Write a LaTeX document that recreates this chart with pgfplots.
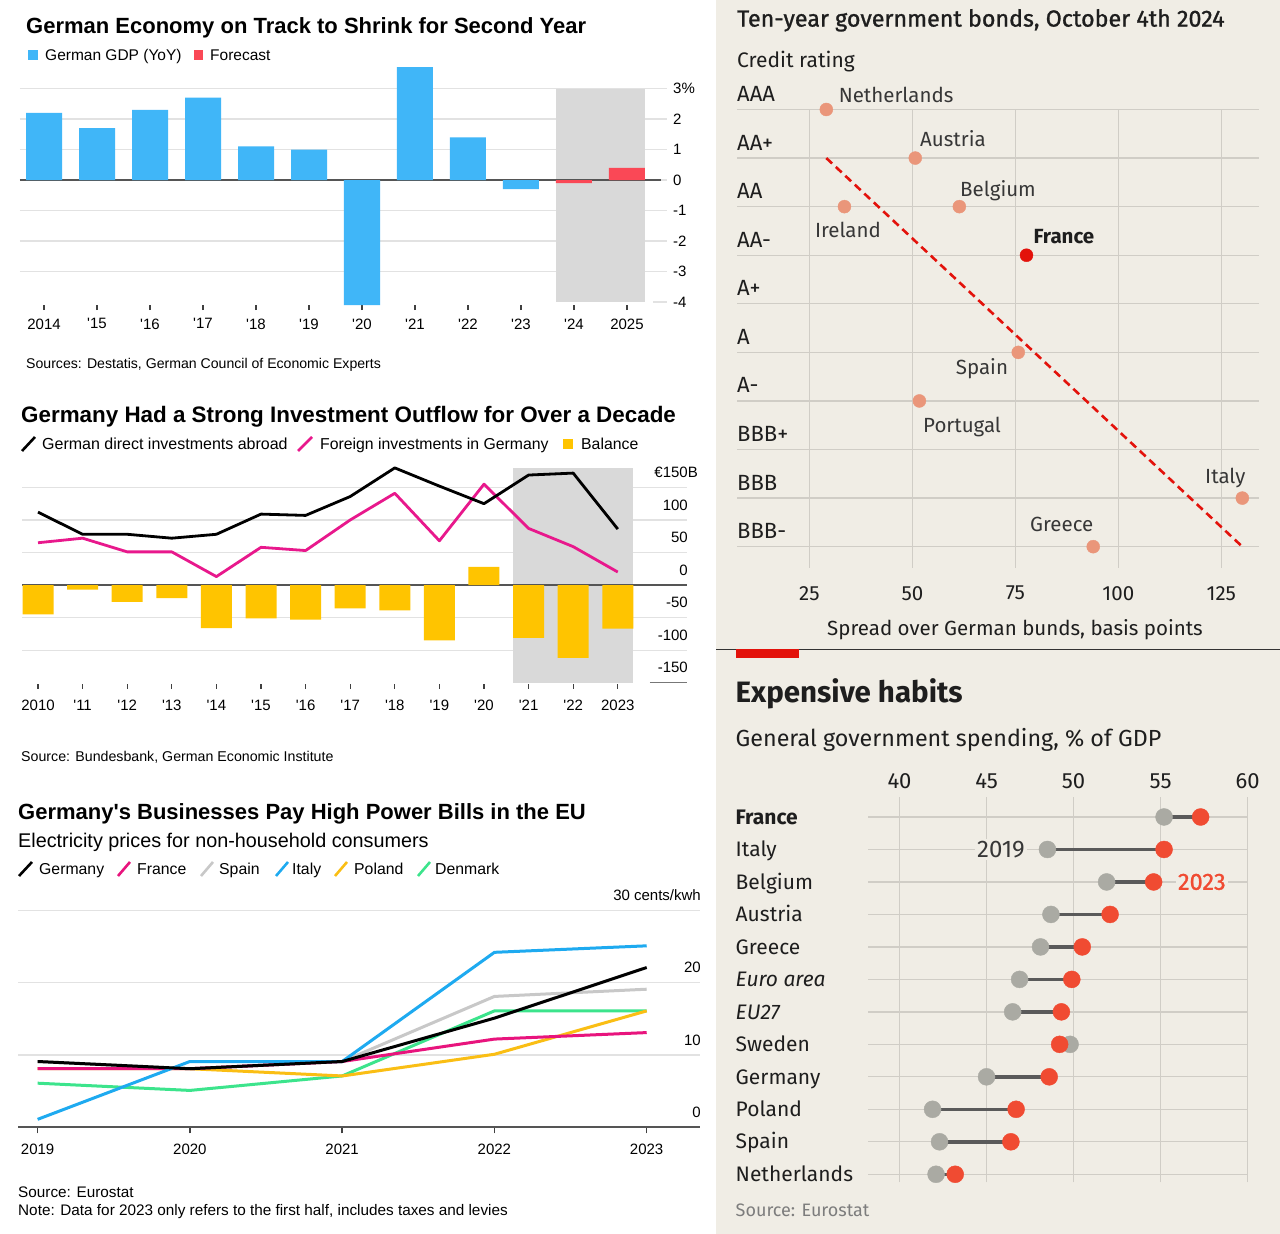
\documentclass[border=0pt]{standalone}
\usepackage{pgfplots}
\pgfplotsset{compat=1.18}
\usepackage{fontspec}
\setmainfont{Liberation Sans}
\newfontfamily\econ{Fira Sans}
\newfontfamily\econmed{Fira Sans}[FakeBold=1.1]
\newcommand\fsz[1]{\fontsize{#1}{#1}\selectfont}

\definecolor{gdpblue}{RGB}{64,182,248}
\definecolor{fcred}{RGB}{250,72,86}
\definecolor{fcgray}{RGB}{217,217,217}
\definecolor{gridl}{RGB}{226,226,226}
\definecolor{zerol}{RGB}{85,85,85}
\definecolor{invpink}{RGB}{232,24,140}
\definecolor{balyel}{RGB}{255,196,0}
\definecolor{frpink}{RGB}{232,20,125}
\definecolor{esgray}{RGB}{200,200,200}
\definecolor{itblue}{RGB}{30,170,240}
\definecolor{plyel}{RGB}{250,190,20}
\definecolor{dkgreen}{RGB}{60,228,140}
\definecolor{ecobg}{RGB}{240,237,229}
\definecolor{ecogrid}{RGB}{208,205,198}
\definecolor{salmon}{RGB}{234,150,122}
\definecolor{ecored}{RGB}{227,18,11}
\definecolor{dotgray}{RGB}{170,170,163}
\definecolor{dotred}{RGB}{240,75,50}
\definecolor{ecotext}{RGB}{30,30,30}
\definecolor{lbltext}{RGB}{55,55,55}
\definecolor{srcgray}{RGB}{125,125,125}
\definecolor{barline}{RGB}{90,90,90}

\tikzset{bt/.style={anchor=base west, inner sep=0pt}}

\begin{document}
\begin{tikzpicture}
\useasboundingbox (0,0) rectangle (1280pt,1234pt);
\fill[white] (0,0) rectangle (716pt,1234pt);
\fill[ecobg] (716pt,0) rectangle (1280pt,1234pt);

% ---------- German GDP ----------
\begin{axis}[
  at={(20pt,928.95pt)}, anchor=south west, scale only axis,
  width=647pt, height=239.4pt,
  xmin=-0.453, xmax=11.755, ymin=-4.1, ymax=3.75,
  clip=false, axis line style={draw=none},
  ymajorgrids, major grid style={gridl, line width=1.2pt},
  ytick={-3,-2,-1,0,1,2,3},
  yticklabels={-3,-2,-1,0,1,2,3\%},
  extra y ticks={-4}, extra y tick labels={-4}, extra y tick style={grid=none},
  yticklabel pos=right, ytick style={draw=none},
  yticklabel style={anchor=west, inner sep=0pt, xshift=1pt},
  xtick={0,...,11},
  xticklabels={2014,\textquotesingle15,\textquotesingle16,\textquotesingle17,\textquotesingle18,\textquotesingle19,\textquotesingle20,\textquotesingle21,\textquotesingle22,\textquotesingle23,\textquotesingle24,2025},
  xtick pos=left, tick align=outside, major tick length=5pt,
  xtick style={line width=1.3pt, black!75},
  xticklabel style={yshift=-5pt},
  ticklabel style={font=\fsz{15}},
]
\fill[fcgray] (axis cs:9.66,3) rectangle (axis cs:11.34,-4);
\addplot[zerol, line width=1.3pt] coordinates {(-0.453,0) (11.64,0)};
\addplot[gridl, line width=1.2pt] coordinates {(11.5,-4) (11.755,-4)};
\addplot[ybar, bar width=36pt, bar shift=0pt, fill=gdpblue, draw=none]
  coordinates {(0,2.2) (1,1.7) (2,2.3) (3,2.7) (4,1.1) (5,1.0) (6,-4.1) (7,3.7) (8,1.4) (9,-0.3)};
\addplot[ybar, bar width=36pt, bar shift=0pt, fill=fcred, draw=none]
  coordinates {(10,-0.1) (11,0.4)};
\end{axis}

% ---------- Investment ----------
\begin{axis}[
  at={(22pt,550pt)}, anchor=south west, scale only axis,
  width=665pt, height=217.4pt,
  xmin=-0.359, xmax=14.552, ymin=-152, ymax=182,
  clip=false, axis line style={draw=none},
  ymajorgrids, major grid style={gridl, line width=1.2pt},
  ytick={-100,-50,0,50,100,150},
  yticklabels={-100,-50,0,50,100,\llap{€}150\rlap{B}},
  extra y ticks={-150}, extra y tick labels={-150}, extra y tick style={grid=none},
  yticklabel pos=right, ytick style={draw=none},
  yticklabel style={anchor=south east, inner sep=0pt, xshift=-4pt, yshift=9.5pt},
  xtick={0,...,13},
  xticklabels={2010,\textquotesingle11,\textquotesingle12,\textquotesingle13,\textquotesingle14,\textquotesingle15,\textquotesingle16,\textquotesingle17,\textquotesingle18,\textquotesingle19,\textquotesingle20,\textquotesingle21,\textquotesingle22,2023},
  xtick pos=left, tick align=outside, major tick length=5pt,
  xtick style={line width=1.3pt, black!75},
  xticklabel style={yshift=-8pt},
  ticklabel style={font=\fsz{15}},
]
\fill[fcgray] (axis cs:10.65,180) rectangle (axis cs:13.34,-150);
\addplot[zerol, line width=1.3pt] coordinates {(-0.359,0) (14.552,0)};
\addplot[zerol!80, line width=1.2pt] coordinates {(13.72,-150) (14.552,-150)};
\addplot[ybar, bar width=31pt, bar shift=0pt, fill=balyel, draw=none]
  coordinates {(0,-45) (1,-7) (2,-26) (3,-20) (4,-66) (5,-51) (6,-53) (7,-36) (8,-39) (9,-85) (10,28) (11,-81) (12,-112) (13,-67)};
\addplot[invpink, line width=2.8pt, line join=round]
  coordinates {(0,65) (1,72) (2,51) (3,51) (4,13) (5,58) (6,53) (7,100) (8,141) (9,68) (10,155) (11,87) (12,59) (13,20)};
\addplot[black, line width=2.8pt, line join=round]
  coordinates {(0,112) (1,78) (2,78) (3,72) (4,78) (5,109) (6,107) (7,136) (8,180) (9,152) (10,125) (11,169) (12,172) (13,86)};
\end{axis}

% ---------- Electricity ----------
\begin{axis}[
  at={(18pt,106.7pt)}, anchor=south west, scale only axis,
  width=682pt, height=216.9pt,
  xmin=2018.871, xmax=2023.35, ymin=0, ymax=30,
  clip=false, axis line style={draw=none},
  ymajorgrids, major grid style={gridl, line width=1.2pt},
  ytick={10,20,30}, yticklabels={10,20,30 cents/kwh},
  extra y ticks={0}, extra y tick labels={0}, extra y tick style={grid=none},
  yticklabel pos=right, ytick style={draw=none},
  yticklabel style={anchor=south east, inner sep=0pt, xshift=-5pt, yshift=9.5pt},
  xtick={2019,...,2023}, xticklabels={2019,2020,2021,2022,2023},
  xtick pos=left, tick align=outside, major tick length=6pt,
  xtick style={line width=1.3pt, black!75},
  xticklabel style={yshift=-7pt},
  ticklabel style={font=\fsz{15}},
]
\addplot[zerol, line width=1.6pt] coordinates {(2018.871,0) (2023.35,0)};
\addplot[esgray, line width=3pt] coordinates {(2019,9.1) (2020,8.1) (2021,9.1) (2022,18.1) (2023,19.1)};
\addplot[dkgreen, line width=3pt] coordinates {(2019,6.1) (2020,5.1) (2021,7.1) (2022,16.1) (2023,16.1)};
\addplot[plyel, line width=3pt] coordinates {(2019,8.1) (2020,8.1) (2021,7.1) (2022,10.1) (2023,16.1)};
\addplot[frpink, line width=3pt] coordinates {(2019,8.1) (2020,8.1) (2021,9.1) (2022,12.2) (2023,13.1)};
\addplot[itblue, line width=3pt] coordinates {(2019,1.1) (2020,9.1) (2021,9.1) (2022,24.2) (2023,25.1)};
\addplot[black, line width=3pt] coordinates {(2019,9.1) (2020,8.1) (2021,9.1) (2022,15.1) (2023,22.1)};
\end{axis}

% ---------- Bonds ----------
\begin{axis}[
  at={(737pt,666pt)}, anchor=south west, scale only axis,
  width=522pt, height=458.5pt,
  xmin=7.42, xmax=134.15, ymin=0.561, ymax=10,
  clip=false, axis line style={draw=none}, tick style={draw=none},
  grid=major, major grid style={ecogrid, line width=1.3pt},
  xtick={25,50,75,100,125}, xticklabels={25,50,75,100,125},
  ytick={1,...,10}, yticklabels={BBB-,BBB,BBB+,A-,A,A+,AA-,AA,AA+,AAA},
  xticklabel style={anchor=north, inner sep=0pt, yshift=-18pt, font=\econ\fsz{20.5}},
  yticklabel style={anchor=base west, inner sep=0pt, yshift=8pt, font=\econ\fsz{22}},
  ticklabel style={text=ecotext},
]
\addplot[ecored, line width=2.6pt, dash pattern=on 8pt off 5pt] coordinates {(29.1,9) (130.1,1)};
\addplot[salmon, only marks, mark=*, mark size=6.5pt, mark options={draw=salmon, fill=salmon}]
  coordinates {(29.1,10) (50.7,9) (61.4,8) (33.5,8) (75.7,5) (51.7,4) (130.1,2) (93.9,1)};
\addplot[ecored, only marks, mark=*, mark size=6.5pt, mark options={draw=ecored, fill=ecored}]
  coordinates {(77.7,7)};
\end{axis}

% ---------- Spending ----------
\begin{axis}[
  at={(868pt,51.6pt)}, anchor=south west, scale only axis,
  width=379.6pt, height=384.9pt,
  xmin=38.19, xmax=60, ymin=0.75, ymax=12.6,
  clip=false, axis line style={draw=none}, tick style={draw=none},
  grid=major, major grid style={ecogrid, line width=1.3pt},
  xtick={40,45,50,55,60}, xticklabels={40,45,50,55,60}, xticklabel pos=upper,
  xticklabel style={anchor=south, inner sep=0pt, yshift=8.5pt, font=\econ\fsz{22}},
  ytick={1,...,12},
  yticklabels={Netherlands,Spain,Poland,Germany,Sweden,{\itshape EU27},{\itshape Euro area},Greece,Austria,Belgium,Italy,{\bfseries France}},
  yticklabel style={anchor=base west, inner sep=0pt, xshift=-132.5pt, yshift=-7.2pt, font=\econ\fsz{21}},
  ticklabel style={text=ecotext},
]
\addplot[barline, line width=3.5pt, unbounded coords=jump] coordinates {
  (55.2,12) (57.3,12) (nan,nan) (48.5,11) (55.2,11) (nan,nan)
  (51.9,10) (54.6,10) (nan,nan) (48.7,9) (52.1,9) (nan,nan)
  (48.1,8) (50.5,8) (nan,nan) (46.9,7) (49.9,7) (nan,nan)
  (46.5,6) (49.3,6) (nan,nan) (49.8,5) (49.2,5) (nan,nan)
  (45.0,4) (48.6,4) (nan,nan) (41.9,3) (46.7,3) (nan,nan)
  (42.3,2) (46.4,2) (nan,nan) (42.1,1) (43.2,1)};
\addplot[dotgray, only marks, mark=*, mark size=8.5pt, mark options={draw=dotgray, fill=dotgray}] coordinates {
  (55.2,12) (48.5,11) (51.9,10) (48.7,9) (48.1,8) (46.9,7) (46.5,6) (49.8,5) (45.0,4) (41.9,3) (42.3,2) (42.1,1)};
\addplot[dotred, only marks, mark=*, mark size=8.5pt, mark options={draw=dotred, fill=dotred}] coordinates {
  (57.3,12) (55.2,11) (54.6,10) (52.1,9) (50.5,8) (49.9,7) (49.3,6) (49.2,5) (48.6,4) (46.7,3) (46.4,2) (43.2,1)};
\node[fill=ecobg, inner sep=2pt, font=\econ\fsz{24}, text=lbltext] at (axis cs:45.83,11) {2019};
\node[fill=ecobg, inner sep=2pt, font=\econmed\fsz{23.5}, text=dotred] at (axis cs:57.37,10) {2023};
\end{axis}

% ---------- texts, pixel coordinates from the top ----------
\begin{scope}[shift={(0pt,1234pt)}, x=1pt, y=-1pt]
% GDP
\node[bt, font=\bfseries\fsz{22}] at (26,33.9) {German Economy on Track to Shrink for Second Year};
\fill[gdpblue] (28,50) rectangle (38,60);
\node[bt, font=\fsz{15.5}] at (45,60.6) {German GDP (YoY)};
\fill[fcred] (194,50) rectangle (203,60);
\node[bt, font=\fsz{15.5}] at (210,60.6) {Forecast};
\node[bt, font=\fsz{14.1}] at (26,369) {Sources: Destatis, German Council of Economic Experts};
% investment
\node[bt, font=\bfseries\fsz{22.4}] at (21,423) {Germany Had a Strong Investment Outflow for Over a Decade};
\draw[black, line width=2.6pt] (22,451) -- (35,437);
\node[bt, font=\fsz{16}] at (42,449.8) {German direct investments abroad};
\draw[invpink, line width=2.6pt] (298,451) -- (312,437);
\node[bt, font=\fsz{15.8}] at (320,449.8) {Foreign investments in Germany};
\fill[balyel] (563,439) rectangle (573,449);
\node[bt, font=\fsz{15.8}] at (581,449.8) {Balance};
\node[bt, font=\fsz{14.2}] at (21,762) {Source: Bundesbank, German Economic Institute};
% electricity
\node[bt, font=\bfseries\fsz{22}] at (18,820) {Germany\textquotesingle s Businesses Pay High Power Bills in the EU};
\node[bt, font=\fsz{19.8}] at (18,848) {Electricity prices for non-household consumers};
\draw[black, line width=2.6pt] (19,876) -- (32,862);
\node[bt, font=\fsz{15.8}] at (39,874.7) {Germany};
\draw[frpink, line width=2.6pt] (118,876) -- (130,862);
\node[bt, font=\fsz{15.8}] at (137,874.7) {France};
\draw[esgray, line width=2.6pt] (201,876) -- (213,862);
\node[bt, font=\fsz{15.8}] at (219,874.7) {Spain};
\draw[itblue, line width=2.6pt] (276,876) -- (288,862);
\node[bt, font=\fsz{15.8}] at (292,874.7) {Italy};
\draw[plyel, line width=2.6pt] (335,876) -- (347,862);
\node[bt, font=\fsz{15.8}] at (354,874.7) {Poland};
\draw[dkgreen, line width=2.6pt] (418,876) -- (430,862);
\node[bt, font=\fsz{15.8}] at (435,874.7) {Denmark};
\node[bt, font=\fsz{15.3}] at (18,1197.5) {Source: Eurostat};
\node[bt, font=\fsz{15.3}] at (18,1215.5) {Note: Data for 2023 only refers to the first half, includes taxes and levies};
% bonds
\node[bt, font=\econmed\fsz{23.3}, text=ecotext] at (737,26.6) {Ten-year government bonds, October 4th 2024};
\node[bt, font=\econ\fsz{21}, text=ecotext] at (737,67.9) {Credit rating};
\begin{scope}[every node/.style={bt, font=\econ\fsz{20.5}, text=lbltext}]
\node at (838.6,102.1) {Netherlands};
\node at (920,146.1) {Austria};
\node at (960,196.1) {Belgium};
\node at (814.8,237.7) {Ireland};
\node[font=\econ\bfseries\fsz{20.5}, text=ecotext] at (1033.5,243.9) {France};
\node at (955.7,374.1) {Spain};
\node at (923,432.7) {Portugal};
\node at (1205,483.1) {Italy};
\node at (1030,531.1) {Greece};
\end{scope}
\node[anchor=base, inner sep=0pt, font=\econ\fsz{20.5}, text=ecotext] at (1015,635.1) {Spread over German bunds, basis points};
% spending
\draw[line width=1.2pt, black!80] (716,649.5) -- (1280,649.5);
\fill[ecored] (735.5,649) rectangle (799,658);
\node[bt, font=\econ\bfseries\fsz{29.5}, text=ecotext] at (735.5,703) {Expensive habits};
\node[bt, font=\econ\fsz{23.3}, text=ecotext] at (735.5,746.8) {General government spending, \% of GDP};
\node[bt, font=\econ\fsz{18}, text=srcgray] at (735.5,1216.6) {Source: Eurostat};
\end{scope}
\end{tikzpicture}
\end{document}
